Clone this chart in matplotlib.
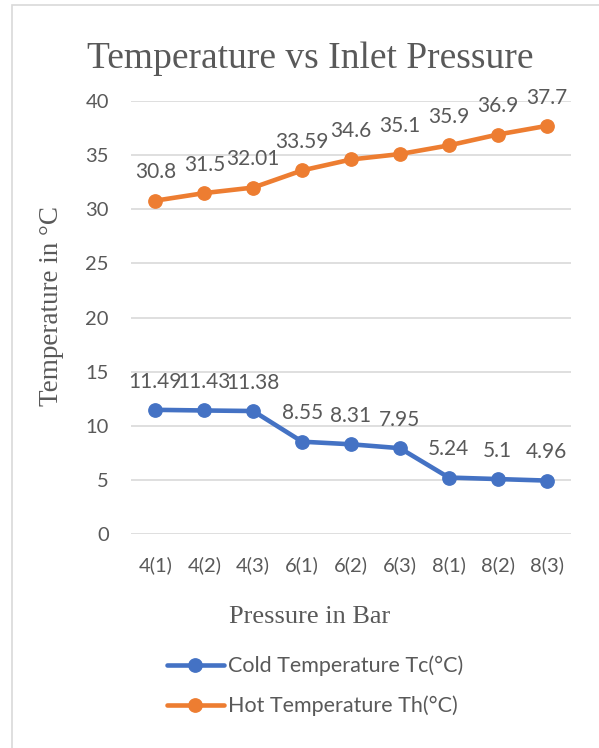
import matplotlib
matplotlib.use("Agg")
import matplotlib.pyplot as plt
from matplotlib.patches import Rectangle

categories = ["4(1)", "4(2)", "4(3)", "6(1)", "6(2)", "6(3)", "8(1)", "8(2)", "8(3)"]
cold = [11.49, 11.43, 11.38, 8.55, 8.31, 7.95, 5.24, 5.1, 4.96]
hot = [30.8, 31.5, 32.01, 33.59, 34.6, 35.1, 35.9, 36.9, 37.7]
cold_labels = ["11.49", "11.43", "11.38", "8.55", "8.31", "7.95", "5.24", "5.1", "4.96"]
hot_labels = ["30.8", "31.5", "32.01", "33.59", "34.6", "35.1", "35.9", "36.9", "37.7"]
yticks = [0, 5, 10, 15, 20, 25, 30, 35, 40]

W, H = 599, 748
BLUE = "#4472C4"
ORANGE = "#ED7D31"
TXT = "#595959"
SANS = ["Lato", "DejaVu Sans"]
SERIF = ["Liberation Serif", "DejaVu Serif"]

fig = plt.figure(figsize=(W / 100, H / 100), dpi=100)
fig.patch.set_facecolor("white")

# chart border
fig.patches.append(Rectangle((12 / W, -0.01), 1.0, 1 - 4.5 / H + 0.01, transform=fig.transFigure,
                             fill=False, edgecolor="#D9D9D9", linewidth=1.2, clip_on=False))

ax = fig.add_axes([131 / W, 1 - 534.3 / H, 440 / W, 433.3 / H])
x = list(range(len(categories)))

ax.plot(x, cold, color=BLUE, lw=3.3, marker="o", markersize=9.6, label="Cold Temperature Tc(°C)",
        solid_capstyle="round", zorder=3)
ax.plot(x, hot, color=ORANGE, lw=3.3, marker="o", markersize=9.6, label="Hot Temperature Th(°C)",
        solid_capstyle="round", zorder=3)

for xi, v, s in zip(x, cold, cold_labels):
    ax.annotate(s, (xi, v), xytext=(0, 16), textcoords="offset points", ha="center", va="baseline",
                fontsize=15, color=TXT, family=SANS)
for xi, v, s in zip(x, hot, hot_labels):
    ax.annotate(s, (xi, v), xytext=(0, 16), textcoords="offset points", ha="center", va="baseline",
                fontsize=15, color=TXT, family=SANS)

ax.set_xlim(-0.5, len(categories) - 0.5)
ax.set_ylim(0, 40)
ax.set_yticks(yticks)
ax.set_xticks(x)
ax.set_xticklabels(categories)
ax.grid(axis="y", color="#D9D9D9", lw=1.2)
ax.set_axisbelow(True)
for sp in ax.spines.values():
    sp.set_visible(False)
ax.tick_params(axis="both", length=0, labelsize=14.5, labelcolor=TXT)
ax.tick_params(axis="y", pad=16)
ax.tick_params(axis="x", pad=16)
for lab in ax.get_xticklabels() + ax.get_yticklabels():
    lab.set_family(SANS)

fig.text(310 / W, 1 - 68 / H, "Temperature vs Inlet Pressure", ha="center", va="baseline",
         fontsize=27, color=TXT, family=SERIF)
fig.text(52 / W, 1 - 306 / H, "Temperature in °C", ha="center", va="center", rotation=90,
         fontsize=19.5, color=TXT, family=SERIF)
fig.text(310 / W, 1 - 617 / H, "Pressure in Bar", ha="center", va="center",
         fontsize=19, color=TXT, family=SERIF)

leg = fig.legend(loc="center", bbox_to_anchor=(315 / W, 1 - 686 / H), ncol=1, frameon=False,
                 prop={"family": SANS, "size": 15.5}, handlelength=2.65, handletextpad=0.2,
                 labelspacing=0.9, labelcolor=TXT)

fig.savefig("out.png", dpi=100, facecolor="white")
